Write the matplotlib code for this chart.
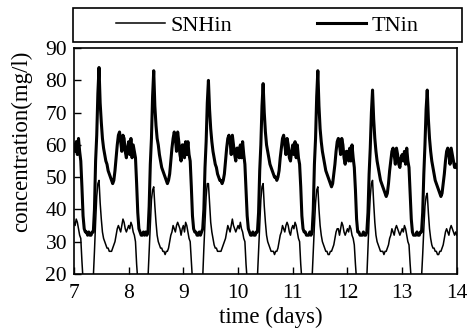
import numpy as np
import matplotlib.pyplot as plt
from matplotlib.patches import Rectangle

# ------------------------------------------------------------
# Influent data, one value every 30 min (48 per day)
# ------------------------------------------------------------
tn_d7 = [60, 58, 61, 57, 62, 58, 55, 47, 38, 34, 33, 33, 32, 33, 32, 32, 33, 33, 40, 55, 63, 76, 84, 73,
         67, 62, 59, 57, 55, 54, 52, 51, 50, 49, 48, 49, 52, 56, 60, 63, 64, 61, 58, 63, 62, 58, 56, 59]
tn_d8 = [61, 57, 62, 56, 60, 58, 56, 48, 39, 34, 33, 32, 32, 33, 32, 33, 32, 33, 41, 54, 62, 75, 83, 72,
         66, 62, 60, 57, 55, 53, 52, 51, 50, 49, 48, 49, 51, 55, 59, 62, 64, 62, 58, 64, 61, 57, 55, 60]
tn_d9 = [60, 56, 61, 57, 61, 57, 55, 47, 38, 34, 33, 33, 32, 32, 33, 32, 33, 34, 40, 53, 61, 73, 80, 71,
         65, 61, 58, 56, 54, 53, 51, 50, 49, 49, 48, 49, 51, 55, 59, 62, 63, 61, 57, 63, 60, 57, 55, 59]
tn_d10 = [59, 56, 60, 56, 61, 57, 54, 46, 38, 34, 33, 32, 32, 33, 32, 32, 33, 33, 39, 52, 60, 72, 79, 70,
          64, 60, 58, 56, 54, 53, 52, 51, 50, 50, 49, 50, 52, 56, 59, 62, 63, 60, 57, 62, 60, 56, 55, 58]
tn_d11 = [60, 57, 61, 56, 60, 56, 54, 47, 38, 34, 33, 33, 32, 32, 32, 33, 32, 33, 40, 54, 62, 75, 83, 72,
          65, 61, 58, 56, 54, 52, 51, 50, 49, 48, 47, 48, 51, 54, 58, 61, 62, 60, 57, 62, 60, 56, 54, 58]
tn_d12 = [58, 55, 59, 55, 60, 56, 53, 46, 37, 33, 33, 32, 32, 32, 33, 32, 32, 33, 39, 51, 59, 70, 77, 68,
          62, 58, 55, 53, 51, 49, 48, 47, 46, 45, 44, 45, 48, 52, 55, 58, 59, 57, 54, 59, 57, 54, 53, 56]
tn_d13 = [57, 55, 58, 54, 59, 55, 53, 45, 37, 33, 32, 32, 32, 33, 32, 32, 33, 33, 39, 51, 60, 71, 77, 68,
          62, 58, 55, 53, 51, 49, 48, 47, 46, 45, 44, 45, 48, 51, 55, 58, 59, 57, 54, 59, 57, 55, 53, 54]
tn_end = [53]

snh_d7 = [36, 35, 37, 36, 34, 32, 31, 24, 18, 17, 17, 17, 17, 17, 17, 17, 18, 19, 27, 36, 44, 48, 49, 42,
          37, 33, 31, 30, 29, 28, 28, 27, 27, 27, 28, 29, 30, 32, 34, 35, 34, 33, 35, 37, 36, 34, 33, 34]
snh_d8 = [35, 34, 36, 35, 33, 32, 30, 23, 18, 17, 17, 17, 17, 17, 17, 17, 18, 19, 27, 35, 43, 46, 47, 41,
          36, 32, 30, 29, 28, 28, 27, 27, 26, 27, 27, 28, 30, 32, 33, 35, 34, 33, 35, 36, 35, 34, 32, 34]
snh_d9 = [35, 33, 36, 35, 33, 31, 30, 24, 18, 17, 17, 17, 17, 17, 17, 17, 18, 19, 28, 36, 44, 48, 48, 42,
          36, 33, 31, 29, 28, 28, 27, 27, 27, 27, 28, 29, 30, 31, 33, 35, 34, 33, 35, 37, 35, 34, 33, 34]
snh_d10 = [35, 34, 36, 34, 33, 31, 30, 23, 18, 17, 17, 17, 17, 17, 17, 17, 18, 19, 27, 35, 43, 47, 48, 41,
           36, 32, 30, 29, 28, 27, 27, 27, 26, 27, 27, 28, 30, 32, 33, 35, 34, 33, 35, 36, 35, 33, 32, 34]
snh_d11 = [35, 34, 36, 35, 33, 31, 30, 23, 18, 17, 17, 17, 17, 17, 17, 17, 18, 19, 27, 35, 42, 46, 47, 40,
           35, 32, 30, 29, 28, 27, 27, 26, 26, 27, 27, 28, 29, 31, 33, 34, 34, 32, 34, 36, 35, 33, 32, 33]
snh_d12 = [34, 33, 35, 34, 32, 31, 29, 23, 18, 17, 17, 17, 17, 17, 17, 17, 18, 19, 28, 37, 44, 48, 49, 42,
           36, 32, 30, 29, 28, 27, 27, 27, 26, 27, 27, 28, 29, 31, 32, 34, 33, 32, 34, 35, 34, 33, 32, 33]
snh_d13 = [34, 33, 35, 34, 32, 30, 29, 23, 18, 17, 17, 17, 17, 17, 17, 17, 18, 19, 26, 34, 41, 44, 45, 39,
           34, 31, 29, 28, 28, 27, 27, 26, 26, 27, 27, 28, 29, 31, 33, 34, 33, 32, 34, 35, 34, 33, 32, 33]
snh_end = [32]

tn = np.array(tn_d7 + tn_d8 + tn_d9 + tn_d10 + tn_d11 + tn_d12 + tn_d13 + tn_end)
snh = np.array(snh_d7 + snh_d8 + snh_d9 + snh_d10 + snh_d11 + snh_d12 + snh_d13 + snh_end)
t = 7 + np.arange(len(tn)) / 48.0

xticks = [7, 8, 9, 10, 11, 12, 13, 14]
yticks = [20, 30, 40, 50, 60, 70, 80, 90]

plt.rcParams['font.family'] = ['Liberation Serif', 'DejaVu Serif']

fig = plt.figure(figsize=(4.71, 3.32), dpi=100)
ax = fig.add_axes([0.157, 0.175, 0.813, 0.680])

l1, = ax.plot(t, snh, color='black', linewidth=1.1)
l2, = ax.plot(t, tn, color='black', linewidth=2.2)

ax.set_xlim(7, 14)
ax.set_ylim(20, 90)
ax.set_xticks(xticks)
ax.set_yticks(yticks)
ax.tick_params(direction='in', length=5, width=1, labelsize=15.5, pad=5)
ax.tick_params(axis='x', pad=7)
for s in ax.spines.values():
    s.set_linewidth(1.2)

ax.set_xlabel('time (days)', fontsize=16.5)
ax.set_ylabel('concentration(mg/l)', fontsize=16.5)
ax.xaxis.set_label_coords(0.514, -0.145)
ax.yaxis.set_label_coords(-0.11, 0.588)

# legend box above the axes
box = Rectangle((0.155, 0.873), 0.826, 0.102, transform=fig.transFigure,
                fill=False, edgecolor='black', linewidth=1.2)
fig.patches.append(box)
fig.legend([l1, l2], ['SNHin', 'TNin'], loc='center',
           bbox_to_anchor=(0.568, 0.924), ncol=2, frameon=False,
           fontsize=16, handlelength=2.2, handletextpad=0.25,
           columnspacing=3.8, borderaxespad=0)

fig.savefig('out.png', dpi=100)
